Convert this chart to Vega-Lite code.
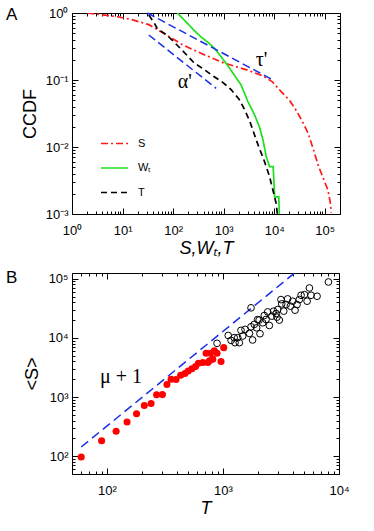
{
  "$schema": "https://vega.github.io/schema/vega-lite/v6.json",
  "background": "white",
  "padding": {"left": 5, "top": 5, "right": 5, "bottom": 5},
  "spacing": 10,
  "datasets": {
    "curves": [
      {"series": "S", "i": 1, "x": 2, "y": 1.0},
      {"series": "S", "i": 2, "x": 4, "y": 0.94},
      {"series": "S", "i": 3, "x": 8, "y": 0.88},
      {"series": "S", "i": 4, "x": 15, "y": 0.8},
      {"series": "S", "i": 5, "x": 33, "y": 0.67},
      {"series": "S", "i": 6, "x": 70, "y": 0.48},
      {"series": "S", "i": 7, "x": 150, "y": 0.34},
      {"series": "S", "i": 8, "x": 355, "y": 0.25},
      {"series": "S", "i": 9, "x": 1000, "y": 0.18},
      {"series": "S", "i": 10, "x": 3000, "y": 0.14},
      {"series": "S", "i": 11, "x": 6000, "y": 0.115},
      {"series": "S", "i": 12, "x": 9200, "y": 0.094},
      {"series": "S", "i": 13, "x": 14000, "y": 0.066},
      {"series": "S", "i": 14, "x": 20000, "y": 0.05},
      {"series": "S", "i": 15, "x": 28000, "y": 0.034},
      {"series": "S", "i": 16, "x": 36000, "y": 0.024},
      {"series": "S", "i": 17, "x": 47000, "y": 0.016},
      {"series": "S", "i": 18, "x": 60000, "y": 0.009},
      {"series": "S", "i": 19, "x": 75000, "y": 0.0052},
      {"series": "S", "i": 20, "x": 95000, "y": 0.0033},
      {"series": "S", "i": 21, "x": 115000, "y": 0.0023},
      {"series": "S", "i": 22, "x": 128000, "y": 0.0015},
      {"series": "S", "i": 23, "x": 135000, "y": 0.00105},
      {"series": "Wₜ", "i": 1, "x": 122, "y": 1.0},
      {"series": "Wₜ", "i": 2, "x": 150, "y": 0.85},
      {"series": "Wₜ", "i": 3, "x": 192, "y": 0.7},
      {"series": "Wₜ", "i": 4, "x": 260, "y": 0.55},
      {"series": "Wₜ", "i": 5, "x": 355, "y": 0.44},
      {"series": "Wₜ", "i": 6, "x": 500, "y": 0.36},
      {"series": "Wₜ", "i": 7, "x": 650, "y": 0.3},
      {"series": "Wₜ", "i": 8, "x": 900, "y": 0.22},
      {"series": "Wₜ", "i": 9, "x": 1200, "y": 0.165},
      {"series": "Wₜ", "i": 10, "x": 1600, "y": 0.12},
      {"series": "Wₜ", "i": 11, "x": 2200, "y": 0.085},
      {"series": "Wₜ", "i": 12, "x": 3000, "y": 0.048},
      {"series": "Wₜ", "i": 13, "x": 4100, "y": 0.03},
      {"series": "Wₜ", "i": 14, "x": 5100, "y": 0.02},
      {"series": "Wₜ", "i": 15, "x": 6000, "y": 0.0127},
      {"series": "Wₜ", "i": 16, "x": 6950, "y": 0.0072},
      {"series": "Wₜ", "i": 17, "x": 8100, "y": 0.0051},
      {"series": "Wₜ", "i": 18, "x": 9500, "y": 0.0051},
      {"series": "Wₜ", "i": 19, "x": 9800, "y": 0.0035},
      {"series": "Wₜ", "i": 20, "x": 10200, "y": 0.0018},
      {"series": "Wₜ", "i": 21, "x": 12300, "y": 0.0018},
      {"series": "Wₜ", "i": 22, "x": 12600, "y": 0.001},
      {"series": "T", "i": 1, "x": 33, "y": 0.93},
      {"series": "T", "i": 2, "x": 38, "y": 0.8},
      {"series": "T", "i": 3, "x": 42, "y": 0.72},
      {"series": "T", "i": 4, "x": 49, "y": 0.58},
      {"series": "T", "i": 5, "x": 75, "y": 0.47},
      {"series": "T", "i": 6, "x": 100, "y": 0.38},
      {"series": "T", "i": 7, "x": 150, "y": 0.28},
      {"series": "T", "i": 8, "x": 260, "y": 0.18},
      {"series": "T", "i": 9, "x": 400, "y": 0.145},
      {"series": "T", "i": 10, "x": 650, "y": 0.112},
      {"series": "T", "i": 11, "x": 1000, "y": 0.09},
      {"series": "T", "i": 12, "x": 1400, "y": 0.072},
      {"series": "T", "i": 13, "x": 2000, "y": 0.052},
      {"series": "T", "i": 14, "x": 2600, "y": 0.036},
      {"series": "T", "i": 15, "x": 3300, "y": 0.024},
      {"series": "T", "i": 16, "x": 4100, "y": 0.015},
      {"series": "T", "i": 17, "x": 5000, "y": 0.0098},
      {"series": "T", "i": 18, "x": 6000, "y": 0.007},
      {"series": "T", "i": 19, "x": 7000, "y": 0.005},
      {"series": "T", "i": 20, "x": 8100, "y": 0.0036},
      {"series": "T", "i": 21, "x": 9000, "y": 0.0026},
      {"series": "T", "i": 22, "x": 10000, "y": 0.0019},
      {"series": "T", "i": 23, "x": 11000, "y": 0.0014},
      {"series": "T", "i": 24, "x": 11500, "y": 0.001}
    ],
    "fits": [
      {"fit": "tau", "x": 31, "y": 1.0},
      {"fit": "tau", "x": 9500, "y": 0.1},
      {"fit": "alpha", "x": 33, "y": 0.47},
      {"fit": "alpha", "x": 710, "y": 0.075}
    ],
    "labelsA": [
      {"label": "τ'", "x": 5600, "y": 0.2},
      {"label": "α'", "x": 170, "y": 0.093}
    ],
    "filled": [
      {"T": 60, "S": 97}, {"T": 90, "S": 183}, {"T": 120, "S": 264}, {"T": 149, "S": 378},
      {"T": 180, "S": 522}, {"T": 210, "S": 720}, {"T": 240, "S": 780}, {"T": 268, "S": 1096},
      {"T": 301, "S": 1100}, {"T": 329, "S": 1630}, {"T": 357, "S": 2000}, {"T": 394, "S": 1980},
      {"T": 432, "S": 2330}, {"T": 470, "S": 2500}, {"T": 502, "S": 2760}, {"T": 540, "S": 3000},
      {"T": 580, "S": 3280}, {"T": 614, "S": 3720}, {"T": 670, "S": 3830}, {"T": 740, "S": 3830},
      {"T": 715, "S": 5500}, {"T": 778, "S": 5500}, {"T": 764, "S": 4090}, {"T": 843, "S": 6030},
      {"T": 889, "S": 5500}, {"T": 962, "S": 4000}, {"T": 1015, "S": 6840}, {"T": 817, "S": 4370}
    ],
    "open": [
      {"T": 889, "S": 8090}, {"T": 1110, "S": 11000}, {"T": 1175, "S": 9080}, {"T": 1250, "S": 10070},
      {"T": 1270, "S": 8300}, {"T": 1340, "S": 10070}, {"T": 1384, "S": 8300}, {"T": 1430, "S": 13400},
      {"T": 1480, "S": 10760}, {"T": 1550, "S": 13900}, {"T": 1690, "S": 11900}, {"T": 1745, "S": 15400},
      {"T": 1745, "S": 32200}, {"T": 1800, "S": 9220}, {"T": 1860, "S": 16900}, {"T": 1950, "S": 14800},
      {"T": 1990, "S": 20400}, {"T": 2050, "S": 20000}, {"T": 2085, "S": 11750}, {"T": 2200, "S": 18000},
      {"T": 2270, "S": 23900}, {"T": 2350, "S": 20500}, {"T": 2430, "S": 27500}, {"T": 2510, "S": 16200},
      {"T": 2640, "S": 23300}, {"T": 2730, "S": 28300}, {"T": 2870, "S": 25800}, {"T": 2920, "S": 22400},
      {"T": 2960, "S": 30100}, {"T": 3060, "S": 20000}, {"T": 3160, "S": 44400}, {"T": 3210, "S": 37600},
      {"T": 3340, "S": 28300}, {"T": 3500, "S": 36600}, {"T": 3610, "S": 45600}, {"T": 3810, "S": 34400},
      {"T": 3990, "S": 41700}, {"T": 4180, "S": 29400}, {"T": 4350, "S": 36600}, {"T": 4550, "S": 44400},
      {"T": 4710, "S": 52500}, {"T": 5040, "S": 53800}, {"T": 5310, "S": 41700}, {"T": 5560, "S": 69800},
      {"T": 5740, "S": 52500}, {"T": 6470, "S": 50600}, {"T": 8110, "S": 88100}
    ],
    "mu": [
      {"T": 60, "S": 143},
      {"T": 4100, "S": 123000}
    ],
    "labelsB": [
      {"label": "μ + 1", "T": 132, "S": 2140}
    ]
  },
  "vconcat": [
    {
      "width": 268,
      "height": 201,
      "title": {"text": "A", "anchor": "start", "frame": "group", "dx": -66, "offset": -17, "fontSize": 17, "fontWeight": "normal", "font": "Liberation Sans", "color": "black"},
      "resolve": {"axis": {"x": "independent", "y": "independent"}},
      "layer": [
        {
          "data": {"name": "curves"},
          "mark": {"type": "line", "strokeWidth": 1.7, "clip": true},
          "encoding": {
            "x": {"field": "x", "type": "quantitative",
              "scale": {"type": "log", "domain": [1, 200000]},
              "axis": {"orient": "bottom", "title": "S,Wₜ,T", "titleFontStyle": "italic",
                "values": [1, 10, 100, 1000, 10000, 100000],
                "labelExpr": "['10⁰','10¹','10²','10³','10⁴','10⁵'][round(log(datum.value)/LN10)]"}},
            "y": {"field": "y", "type": "quantitative",
              "scale": {"type": "log", "domain": [0.001, 1]},
              "axis": {"orient": "left", "title": "CCDF",
                "values": [0.001, 0.01, 0.1, 1],
                "labelExpr": "['10⁰','10⁻¹','10⁻²','10⁻³'][-round(log(datum.value)/LN10)]"}},
            "order": {"field": "i", "type": "quantitative"},
            "color": {"field": "series", "type": "nominal",
              "scale": {"domain": ["S", "Wₜ", "T"], "range": ["#ff1a1a", "#1ee01e", "#000000"]},
              "legend": {"title": null, "orient": "none", "legendX": 28, "legendY": 116, "symbolType": "stroke", "symbolSize": 729, "symbolStrokeWidth": 1.7, "labelFontSize": 11, "labelFont": "Liberation Sans", "labelColor": "black", "rowPadding": 4.5, "labelOffset": 9}},
            "strokeDash": {"field": "series", "type": "nominal",
              "scale": {"domain": ["S", "Wₜ", "T"], "range": [[7, 3, 2, 3], [1, 0], [6, 4]]},
              "legend": {"title": null, "orient": "none", "legendX": 28, "legendY": 116, "symbolType": "stroke", "symbolSize": 729, "symbolStrokeWidth": 1.7, "labelFontSize": 11, "labelFont": "Liberation Sans", "labelColor": "black", "rowPadding": 4.5, "labelOffset": 9}}
          }
        },
        {
          "data": {"name": "fits"},
          "transform": [{"filter": "datum.fit == 'tau'"}],
          "mark": {"type": "line", "strokeWidth": 1.5, "color": "#1a2ee6", "strokeDash": [8, 4]},
          "encoding": {
            "x": {"field": "x", "type": "quantitative",
              "scale": {"type": "log", "domain": [1, 200000]},
              "axis": {"orient": "top", "title": null, "labels": false,
                "values": [1, 10, 100, 1000, 10000, 100000]}},
            "y": {"field": "y", "type": "quantitative",
              "scale": {"type": "log", "domain": [0.001, 1]},
              "axis": {"orient": "right", "title": null, "labels": false,
                "values": [0.001, 0.01, 0.1, 1]}}
          }
        },
        {
          "data": {"name": "fits"},
          "transform": [{"filter": "datum.fit == 'alpha'"}],
          "mark": {"type": "line", "strokeWidth": 1.5, "color": "#1a2ee6", "strokeDash": [8, 4]},
          "encoding": {
            "x": {"field": "x", "type": "quantitative",
              "scale": {"type": "log", "domain": [1, 200000]},
              "axis": {"orient": "top", "title": null, "labels": false, "tickSize": -3,
                "values": [2,3,4,5,6,7,8,9,20,30,40,50,60,70,80,90,200,300,400,500,600,700,800,900,2000,3000,4000,5000,6000,7000,8000,9000,20000,30000,40000,50000,60000,70000,80000,90000,200000]}},
            "y": {"field": "y", "type": "quantitative",
              "scale": {"type": "log", "domain": [0.001, 1]},
              "axis": {"orient": "right", "title": null, "labels": false, "tickSize": -3,
                "values": [0.002,0.003,0.004,0.005,0.006,0.007,0.008,0.009,0.02,0.03,0.04,0.05,0.06,0.07,0.08,0.09,0.2,0.3,0.4,0.5,0.6,0.7,0.8,0.9]}}
          }
        },
        {
          "data": {"name": "labelsA"},
          "mark": {"type": "text", "font": "Liberation Serif", "fontSize": 20, "color": "black", "align": "center", "baseline": "middle"},
          "encoding": {
            "x": {"field": "x", "type": "quantitative", "scale": {"type": "log", "domain": [1, 200000]},
              "axis": {"orient": "bottom", "title": null, "labels": false, "tickSize": -3,
                "values": [2,3,4,5,6,7,8,9,20,30,40,50,60,70,80,90,200,300,400,500,600,700,800,900,2000,3000,4000,5000,6000,7000,8000,9000,20000,30000,40000,50000,60000,70000,80000,90000,200000]}},
            "y": {"field": "y", "type": "quantitative", "scale": {"type": "log", "domain": [0.001, 1]},
              "axis": {"orient": "left", "title": null, "labels": false, "tickSize": -3,
                "values": [0.002,0.003,0.004,0.005,0.006,0.007,0.008,0.009,0.02,0.03,0.04,0.05,0.06,0.07,0.08,0.09,0.2,0.3,0.4,0.5,0.6,0.7,0.8,0.9]}},
            "text": {"field": "label"}
          }
        }
      ]
    },
    {
      "width": 267,
      "height": 201,
      "title": {"text": "B", "anchor": "start", "frame": "group", "dx": -66, "offset": -17, "fontSize": 17, "fontWeight": "normal", "font": "Liberation Sans", "color": "black"},
      "resolve": {"axis": {"x": "independent", "y": "independent"}},
      "layer": [
        {
          "data": {"name": "mu"},
          "mark": {"type": "line", "strokeWidth": 1.5, "color": "#1a2ee6", "strokeDash": [9, 5]},
          "encoding": {
            "x": {"field": "T", "type": "quantitative", "scale": {"type": "log", "domain": [50, 10000]},
              "axis": {"orient": "bottom", "title": null, "labels": false, "tickSize": -3,
                "values": [50,60,70,80,90,200,300,400,500,600,700,800,900,2000,3000,4000,5000,6000,7000,8000,9000]}},
            "y": {"field": "S", "type": "quantitative", "scale": {"type": "log", "domain": [50, 125000]},
              "axis": {"orient": "left", "title": null, "labels": false, "tickSize": -3,
                "values": [50,60,70,80,90,200,300,400,500,600,700,800,900,2000,3000,4000,5000,6000,7000,8000,9000,20000,30000,40000,50000,60000,70000,80000,90000]}}
          }
        },
        {
          "data": {"name": "filled"},
          "mark": {"type": "circle", "size": 50, "color": "#ff0000", "opacity": 1},
          "encoding": {
            "x": {"field": "T", "type": "quantitative",
              "scale": {"type": "log", "domain": [50, 10000]},
              "axis": {"orient": "bottom", "title": "T", "titleFontStyle": "italic",
                "values": [100, 1000, 10000],
                "labelExpr": "['10⁰','10¹','10²','10³','10⁴','10⁵'][round(log(datum.value)/LN10)]"}},
            "y": {"field": "S", "type": "quantitative",
              "scale": {"type": "log", "domain": [50, 125000]},
              "axis": {"orient": "left", "title": "<S>",
                "values": [100, 1000, 10000, 100000],
                "labelExpr": "['10⁰','10¹','10²','10³','10⁴','10⁵'][round(log(datum.value)/LN10)]"}}
          }
        },
        {
          "data": {"name": "open"},
          "mark": {"type": "point", "shape": "circle", "size": 45, "filled": false, "color": "black", "strokeWidth": 1, "opacity": 1},
          "encoding": {
            "x": {"field": "T", "type": "quantitative",
              "scale": {"type": "log", "domain": [50, 10000]},
              "axis": {"orient": "top", "title": null, "labels": false,
                "values": [100, 1000, 10000]}},
            "y": {"field": "S", "type": "quantitative",
              "scale": {"type": "log", "domain": [50, 125000]},
              "axis": {"orient": "right", "title": null, "labels": false,
                "values": [100, 1000, 10000, 100000]}}
          }
        },
        {
          "data": {"name": "labelsB"},
          "mark": {"type": "text", "font": "Liberation Serif", "fontSize": 20, "color": "black", "align": "center", "baseline": "middle"},
          "encoding": {
            "x": {"field": "T", "type": "quantitative", "scale": {"type": "log", "domain": [50, 10000]},
              "axis": {"orient": "top", "title": null, "labels": false, "tickSize": -3,
                "values": [50,60,70,80,90,200,300,400,500,600,700,800,900,2000,3000,4000,5000,6000,7000,8000,9000]}},
            "y": {"field": "S", "type": "quantitative", "scale": {"type": "log", "domain": [50, 125000]},
              "axis": {"orient": "right", "title": null, "labels": false, "tickSize": -3,
                "values": [50,60,70,80,90,200,300,400,500,600,700,800,900,2000,3000,4000,5000,6000,7000,8000,9000,20000,30000,40000,50000,60000,70000,80000,90000]}},
            "text": {"field": "label"}
          }
        }
      ]
    }
  ],
  "config": {
    "view": {"stroke": "black", "strokeWidth": 1},
    "axis": {
      "domain": false, "grid": false, "ticks": true, "tickSize": -6, "tickColor": "black", "tickWidth": 1,
      "labelFont": "Liberation Sans", "labelFontSize": 13, "labelColor": "black", "labelPadding": 16,
      "labelFlush": false, "labelOverlap": false, "labelBound": false,
      "titleFont": "Liberation Sans", "titleFontSize": 18, "titleFontWeight": "normal", "titleColor": "black", "titlePadding": 2
    },
    "axisY": {"labelPadding": 10, "titlePadding": 6}
  }
}
